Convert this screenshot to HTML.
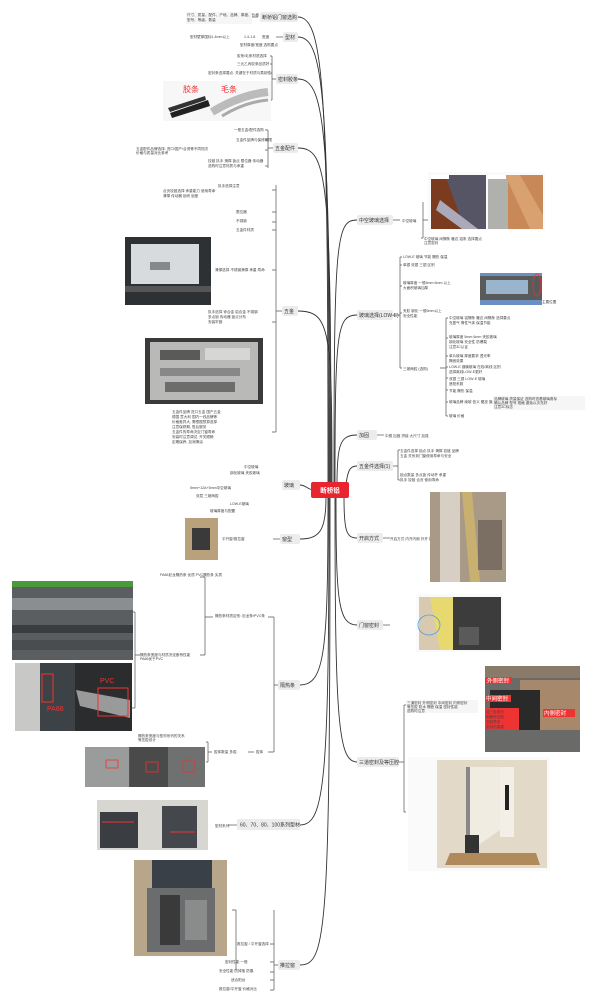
<!DOCTYPE html>
<html><head><meta charset="utf-8"><style>
html,body{margin:0;padding:0;background:#fff;width:600px;height:1003px;overflow:hidden}
svg{display:block}
.n{fill:#ececec}
.t{font-family:"Liberation Sans","Noto Sans CJK SC",sans-serif;font-size:5px;fill:#333}
.s{font-family:"Liberation Sans","Noto Sans CJK SC",sans-serif;font-size:3.6px;fill:#444}
.sb{fill:#f6f6f6}
.l{stroke:#333;stroke-width:0.9;fill:none}
.b{stroke:#555;stroke-width:0.7;fill:none}
</style></head><body>
<svg width="600" height="1003" viewBox="0 0 600 1003" xmlns="http://www.w3.org/2000/svg">
<!-- connectors from center -->
<g class="l">
<path d="M328 484 C328 100 325 17 298 17"/>
<path d="M329 484 C329 110 326 37 298 37"/>
<path d="M330 484 C330 140 327 79 298 79"/>
<path d="M331 484 C331 180 328 148 298 148"/>
<path d="M332 484 C332 330 330 311 298 311"/>
<path d="M314 490 C308 490 306 485 300 485"/>
<path d="M326 497 C326 530 320 539 300 539"/>
<path d="M328 497 C328 650 325 685 300 685"/>
<path d="M329 497 C329 780 325 825 300 825"/>
<path d="M330 497 C330 930 327 965 300 965"/>
<path d="M334 484 C334 240 336 220 357 220"/>
<path d="M335 484 C335 330 337 315 357 315"/>
<path d="M337 484 C337 445 340 435 357 435"/>
<path d="M346 484 C348 470 350 466 357 466"/>
<path d="M344 497 C344 530 346 538 357 538"/>
<path d="M336 497 C336 600 338 625 357 625"/>
<path d="M335 497 C335 720 338 762 357 762"/>
</g>
<!-- center -->
<rect x="311" y="482" width="38" height="16" rx="2" fill="#e8252f"/>
<text x="330" y="492.5" text-anchor="middle" font-family="Liberation Sans,Noto Sans CJK SC,sans-serif" font-size="6.5" fill="#fff" font-weight="bold">断桥铝</text>

<!-- left main nodes -->
<g>
<rect class="n" x="260" y="12" width="38" height="10" rx="2"/><text class="t" x="262" y="19">断桥铝门窗选购</text>
<rect class="n" x="283" y="32" width="15" height="10" rx="2"/><text class="t" x="285" y="39">型材</text>
<rect class="n" x="276" y="74" width="22" height="10" rx="2"/><text class="t" x="278" y="81">密封胶条</text>
<rect class="n" x="273" y="143" width="25" height="10" rx="2"/><text class="t" x="275" y="150">五金配件</text>
<rect class="n" x="282" y="306" width="16" height="10" rx="2"/><text class="t" x="284" y="313">五金</text>
<rect class="n" x="282" y="480" width="18" height="10" rx="2"/><text class="t" x="284" y="487">玻璃</text>
<rect class="n" x="280" y="534" width="20" height="10" rx="2"/><text class="t" x="282" y="541">窗型</text>
<rect class="n" x="278" y="680" width="22" height="10" rx="2"/><text class="t" x="280" y="687">隔热条</text>
<rect class="n" x="237" y="819" width="63" height="11" rx="2"/><text class="t" x="240" y="826.5">60、70、80、100系列型材</text>
<rect class="n" x="278" y="960" width="22" height="10" rx="2"/><text class="t" x="280" y="967">推拉窗</text>
</g>
<!-- right main nodes -->
<g>
<rect class="n" x="357" y="215" width="36" height="10" rx="2"/><text class="t" x="359" y="222">中空玻璃选择</text>
<rect class="n" x="357" y="310" width="36" height="10" rx="2"/><text class="t" x="359" y="317">玻璃选择(LOW-E)</text>
<rect class="n" x="357" y="430" width="20" height="10" rx="2"/><text class="t" x="359" y="437">加固</text>
<rect class="n" x="357" y="461" width="36" height="10" rx="2"/><text class="t" x="359" y="468">五金件选择(1)</text>
<rect class="n" x="357" y="533" width="26" height="10" rx="2"/><text class="t" x="359" y="540">开启方式</text>
<rect class="n" x="357" y="620" width="26" height="10" rx="2"/><text class="t" x="359" y="627">门窗密封</text>
<rect class="n" x="357" y="757" width="42" height="10" rx="2"/><text class="t" x="359" y="764">三道密封及等压腔</text>
</g>

<!-- left sub texts -->
<g class="b">
<path d="M258 17 H252"/><path d="M283 37 H276"/><path d="M276 79 H272 M272 56 V100 M270 56 H272 M270 64 H272 M270 73 H272 M270 100 H272"/>
<path d="M273 148 H268 M268 130 V168 M265 130 H268 M265 140 H268 M265 150 H268 M265 166 H268"/>
<path d="M282 311 H276 M276 185 V432 M272 190 H276 M272 212 H276 M272 222 H276 M272 230 H276 M272 270 H276 M272 322 H276 M272 432 H276"/>
<path d="M280 539 H273"/>
<path d="M278 685 H274 M274 617 V752 M268 617 H274 M268 752 H274"/>
<path d="M213 617 H205 M205 577 V655 M200 577 H205 M200 655 H205"/>
<path d="M140 655 H135 M135 612 V708 M130 612 H135 M130 708 H135"/>
<path d="M254 752 H248 M212 752 H208 M208 742 V762 M206 742 H208 M206 762 H208"/>
<path d="M237 825 H228"/>
<path d="M278 965 H274 M274 910 V990 M270 944 H274 M270 962 H274 M270 972 H274 M270 980 H274 M270 990 H274 M232 910 H236 M236 910 V970"/>
</g>
<g>
<rect class="sb" x="186" y="12" width="66" height="12"/><text class="s" x="187" y="16">尺寸、质量、配件、产地、品牌、厚度、价格</text><text class="s" x="187" y="21">型号、等级、数量</text>
<text class="s" x="190" y="38">型材壁厚国标1.4mm以上</text><text class="s" x="244" y="38">1.4-1.8</text><text class="s" x="262" y="38">宽度</text>
<text class="s" x="240" y="46">型材厚度/宽度 选购要点</text>
<text class="s" x="237" y="57">胶条/毛条材质选择</text><text class="s" x="237" y="65">三元乙丙胶条品质好</text>
<text class="s" x="208" y="74">密封条选择要点, 关键在于材质与柔韧性</text>
<text class="s" x="234" y="131">一般五金/配件选购</text><text class="s" x="236" y="141">五金件品牌与保修期限</text>
<text class="s" x="136" y="150">五金配件品牌选择: 进口/国产/合资等不同档次</text><text class="s" x="136" y="154">价格与质量对比参考</text>
<text class="s" x="208" y="162">铰链 执手 滑撑 锁点 限位器 传动器</text><text class="s" x="208" y="167">选购时注意材质与承重</text>
<text class="s" x="218" y="187">执手选择注意</text><text class="s" x="163" y="192">合页铰链选择 承重能力 使用寿命</text><text class="s" x="163" y="197">滑撑 传动器 锁块 锁座</text>
<text class="s" x="236" y="213">限位器</text><text class="s" x="236" y="222">不锈钢</text><text class="s" x="236" y="231">五金件材质</text>
<text class="s" x="215" y="271">滑撑选择 不锈钢滑撑 承重 寿命</text>
<text class="s" x="208" y="313">执手选择 锌合金 铝合金 不锈钢</text><text class="s" x="208" y="318">多点锁 传动器 锁点分布</text><text class="s" x="208" y="323">安装牢固</text>
<text class="s" x="172" y="413">五金件品牌 进口五金 国产五金</text><text class="s" x="172" y="418">德国 意大利 国内一线品牌等</text><text class="s" x="172" y="423">价格差异大, 需根据预算选择</text><text class="s" x="172" y="428">注意保修期, 售后服务</text><text class="s" x="172" y="433">五金件的寿命决定门窗寿命</text><text class="s" x="172" y="438">安装时注意调试, 开关顺畅</text><text class="s" x="172" y="443">定期保养, 加润滑油</text>
<text class="s" x="244" y="468">中空玻璃</text><text class="s" x="230" y="474">钢化玻璃 夹胶玻璃</text><text class="s" x="190" y="489">5mm+12A+5mm中空玻璃</text><text class="s" x="196" y="497">双层 三玻两腔</text><text class="s" x="230" y="505">LOW-E玻璃</text><text class="s" x="210" y="512">玻璃厚度与配置</text>
<text class="s" x="222" y="540">平开窗/推拉窗</text>
<text class="s" x="160" y="576">PA66尼龙隔热条 优质 PVC隔热条 劣质</text>
<text class="s" x="215" y="617">隔热条材质区别: 尼龙条/PVC条</text>
<text class="s" x="140" y="656">隔热条宽度与材质决定断桥性能</text><text class="s" x="140" y="660">PA66优于PVC</text>
<text class="s" x="138" y="737">隔热条宽度与型材系列的关系</text><text class="s" x="138" y="741">等压腔设计</text>
<text class="s" x="214" y="753">腔体数量 多腔</text><text class="s" x="256" y="753">腔体</text>
<text class="s" x="215" y="827">型材系列</text>
<text class="s" x="237" y="945">推拉窗 / 平开窗选择</text><text class="s" x="225" y="963">密封性能 一般</text><text class="s" x="219" y="972">安全性能 防掉落 防撬</text><text class="s" x="231" y="981">适合阳台</text><text class="s" x="219" y="990">推拉窗/平开窗 价格对比</text>
</g>

<!-- right sub texts -->
<g class="b">
<path d="M393 220 H400 M428 220 H423 M423 202 V238 M421 238 H423"/>
<path d="M393 315 H400 M400 257 V368 M402 257 H400 M402 265 H400 M402 286 H400 M402 313 H400 M402 368 H400"/>
<path d="M440 368 H446 M446 318 V416 M448 318 H446 M448 338 H446 M448 356 H446 M448 367 H446 M448 378 H446 M448 390 H446 M448 402 H446 M448 416 H446"/>
<path d="M377 435 H384"/><path d="M393 466 H398 M398 450 V480 M400 450 H398 M400 480 H398"/>
<path d="M383 538 H390"/><path d="M383 625 H390"/>
<path d="M398 762 H404 M404 705 V812 M406 705 H404 M406 812 H404"/>
</g>
<g>
<text class="s" x="402" y="222">中空玻璃</text>
<text class="s" x="424" y="240">中空玻璃 间隔条 暖边 铝条 选择要点</text><text class="s" x="424" y="244">注意密封</text>
<text class="s" x="403" y="258">LOW-E 玻璃 节能 隔热 保温</text><text class="s" x="403" y="266">单银 双银 三银 区别</text>
<text class="s" x="403" y="284">玻璃厚度 一般5mm 6mm 以上</text><text class="s" x="403" y="289">大面积玻璃加厚</text>
<text class="s" x="403" y="312">夹胶 钢化 一般5mm以上</text><text class="s" x="403" y="317">安全性能</text>
<text class="s" x="403" y="370">三玻两腔 (选购)</text>
<text class="s" x="449" y="319">中空玻璃 铝隔条 暖边 间隔条 选择要点</text><text class="s" x="449" y="324">充氩气 惰性气体 保温节能</text>
<text class="s" x="449" y="338">玻璃厚度 5mm 6mm 夹胶玻璃</text><text class="s" x="449" y="343">钢化玻璃 安全性 防爆裂</text><text class="s" x="449" y="348">注意3C认证</text>
<text class="s" x="449" y="357">单片玻璃 厚度要求 透光率</text><text class="s" x="449" y="362">隔音效果</text>
<text class="s" x="449" y="368">LOW-E 镀膜玻璃 在线/离线 区别</text><text class="s" x="449" y="373">选择离线LOW-E更好</text>
<text class="s" x="449" y="380">双银 三银 LOW-E 玻璃</text><text class="s" x="449" y="385">遮阳系数</text>
<text class="s" x="449" y="392">节能 隔热 保温</text>
<text class="s" x="449" y="403">玻璃品牌 南玻 信义 耀皮 旗滨</text><rect class="sb" x="493" y="396" width="92" height="14"/><text class="s" x="494" y="400">品牌玻璃 质量保证 选购时查看玻璃角标</text><text class="s" x="494" y="404">确认品牌 型号 规格 避免以次充好</text><text class="s" x="494" y="408">注意3C标志</text>
<text class="s" x="449" y="417">玻璃 价格</text>
<text class="s" x="385" y="437">中梃 加固 拼接 大尺寸 加强</text>
<text class="s" x="400" y="452">五金件选择 锁点 执手 滑撑 铰链 品牌</text><text class="s" x="400" y="457">五金 关系到门窗使用寿命与安全</text>
<text class="s" x="400" y="476">锁点数量 多点锁 传动杆 承重</text><text class="s" x="400" y="481">执手 铰链 合页 使用寿命</text>
<text class="s" x="390" y="540">开启方式 内开内倒 外开 推拉</text>
<rect class="sb" x="406" y="700" width="72" height="13"/><text class="s" x="407" y="704">三道密封 外侧密封 中间密封 内侧密封</text><text class="s" x="407" y="708">等压腔 防水 隔音 保温 密封性能</text><text class="s" x="407" y="712">选购时注意</text>
<text class="s" x="412" y="806">中空玻璃</text>
</g>

<!-- LEFT IMAGES -->
<!-- strips -->
<rect x="163" y="81" width="108" height="40" fill="#f7f7f7"/>
<text x="183" y="92" font-family="Liberation Sans,Noto Sans CJK SC,sans-serif" font-size="8" fill="#e33">胶条</text>
<text x="221" y="92" font-family="Liberation Sans,Noto Sans CJK SC,sans-serif" font-size="8" fill="#e33">毛条</text>
<path d="M170 113 L208 100 L210 106 L172 118Z" fill="#222"/><path d="M168 108 L205 96 L206 100 L170 112Z" fill="#333"/>
<path d="M212 112 Q240 95 268 92" stroke="#bbb" stroke-width="8" fill="none"/><path d="M222 116 Q245 102 268 100" stroke="#aaa" stroke-width="3" fill="none"/>
<!-- dark window -->
<rect x="125" y="237" width="86" height="68" fill="#2e3134"/><rect x="131" y="244" width="68" height="40" fill="#d8dbdd"/><rect x="125" y="286" width="86" height="6" fill="#555"/><rect x="150" y="262" width="20" height="8" fill="#888"/>
<!-- hardware box -->
<rect x="145" y="338" width="118" height="66" fill="#3a3a3a"/><rect x="150" y="342" width="108" height="58" fill="#b9b9b7"/><rect x="160" y="350" width="40" height="10" fill="#5a5a5a"/><rect x="205" y="348" width="45" height="12" fill="#d6d6d4"/><rect x="160" y="368" width="80" height="8" fill="#888"/><rect x="165" y="382" width="70" height="10" fill="#6d6d6d"/>
<!-- small profile -->
<rect x="185" y="518" width="33" height="42" fill="#b9a17b"/><rect x="192" y="528" width="18" height="22" fill="#3a3a3a"/>
<!-- metal -->
<rect x="12" y="581" width="121" height="6" fill="#4a9a3a"/><rect x="12" y="587" width="121" height="73" fill="#5a5e60"/><rect x="12" y="598" width="121" height="12" fill="#8a8e90"/><rect x="12" y="625" width="121" height="8" fill="#3a3d40"/><rect x="12" y="640" width="121" height="10" fill="#4a4d50"/>
<rect x="15" y="663" width="117" height="68" fill="#c8c8c6"/><rect x="40" y="663" width="35" height="68" fill="#3d4246"/><rect x="75" y="663" width="57" height="68" fill="#2a2c2e"/><path d="M76 690 L130 700 L130 718 L80 706Z" fill="#9a9a9a"/>
<rect x="42" y="674" width="11" height="28" fill="none" stroke="#e33" stroke-width="1"/><rect x="98" y="688" width="30" height="28" fill="none" stroke="#e33" stroke-width="1"/>
<text x="100" y="683" font-family="Liberation Sans,sans-serif" font-size="7" fill="#e33">PVC</text><text x="47" y="711" font-family="Liberation Sans,sans-serif" font-size="7" fill="#e33">PA66</text>
<!-- three profiles -->
<rect x="85" y="747" width="120" height="40" fill="#555"/><rect x="85" y="747" width="44" height="40" fill="#9a9c9c"/><rect x="130" y="747" width="38" height="40" fill="#4a4a4a"/><rect x="168" y="747" width="37" height="40" fill="#6f7070"/>
<rect x="106" y="760" width="12" height="8" fill="none" stroke="#e33" stroke-width="0.8"/><rect x="146" y="762" width="12" height="10" fill="none" stroke="#e33" stroke-width="0.8"/><rect x="183" y="760" width="12" height="12" fill="none" stroke="#e33" stroke-width="0.8"/>
<!-- two series -->
<rect x="97" y="800" width="111" height="50" fill="#d8d6d0"/><rect x="100" y="812" width="38" height="36" fill="#3a3e42"/><rect x="162" y="806" width="35" height="42" fill="#44484c"/>
<line x1="102" y1="822" x2="134" y2="822" stroke="#e33" stroke-width="1"/><line x1="170" y1="832" x2="195" y2="832" stroke="#e33" stroke-width="1"/>
<!-- big profile -->
<rect x="134" y="860" width="93" height="96" fill="#b7a68a"/><rect x="152" y="860" width="60" height="30" fill="#3a4048"/><rect x="147" y="888" width="68" height="64" fill="#6a6c6e"/><rect x="160" y="895" width="20" height="50" fill="#3a3a3a"/><rect x="185" y="900" width="22" height="40" fill="#8a8c8c"/>

<!-- RIGHT IMAGES -->
<rect x="428" y="172" width="117" height="58" fill="#fafafa"/>
<rect x="431" y="175" width="55" height="54" fill="#7a3b1f"/><path d="M445 175 L486 175 L486 229 L465 229Z" fill="#556"/><path d="M440 200 L478 229 L462 229 L436 210Z" fill="#aab"/>
<rect x="488" y="175" width="55" height="54" fill="#c88858"/><rect x="488" y="175" width="20" height="54" fill="#b0b0ac"/><path d="M505 175 L520 175 L543 215 L543 229 L530 229Z" fill="#d9a070"/>
<rect x="431" y="175" width="18" height="4" fill="#fff"/><rect x="488" y="175" width="18" height="4" fill="#fff"/>
<rect x="480" y="273" width="62" height="32" fill="#6a8fc0"/><rect x="480" y="276" width="62" height="24" fill="#5a5a5a"/><rect x="486" y="280" width="42" height="14" fill="#9ab4cc"/><ellipse cx="537" cy="285" rx="4" ry="11" fill="none" stroke="#e33" stroke-width="0.7"/><text class="s" x="542" y="303" fill="#e33">主要位置</text>
<rect x="430" y="492" width="76" height="90" fill="#a89a86"/><rect x="440" y="492" width="20" height="90" fill="#d8cfc4"/><path d="M462 492 L472 492 L480 582 L470 582Z" fill="#c8b070"/><rect x="478" y="520" width="24" height="50" fill="#7a6f62"/>
<rect x="416" y="594" width="87" height="58" fill="#fafafa"/><rect x="419" y="597" width="40" height="53" fill="#d9c9b0"/><path d="M430 597 L459 597 L459 650 L440 650Z" fill="#e8d870"/><ellipse cx="429" cy="625" rx="11" ry="10" fill="none" stroke="#4aa0e0" stroke-width="0.8"/>
<rect x="453" y="597" width="48" height="53" fill="#3c3c3c"/><rect x="459" y="627" width="20" height="18" fill="#5a5a5a"/>
<rect x="485" y="666" width="95" height="86" fill="#6a6a68"/><rect x="485" y="666" width="95" height="12" fill="#8a7a6a"/><rect x="520" y="680" width="60" height="50" fill="#a8886a"/><rect x="490" y="690" width="50" height="40" fill="#2a2a2a"/>
<g font-family="Liberation Sans,Noto Sans CJK SC,sans-serif" font-size="5.5" fill="#fff">
<rect x="486" y="677" width="26" height="7" fill="#e33"/><text x="487" y="682.5">外侧密封</text>
<rect x="485" y="695" width="26" height="7" fill="#e33"/><text x="486" y="700.5">中间密封</text>
<rect x="543" y="709" width="32" height="8" fill="#e33"/><text x="544" y="715">内侧密封</text>
<rect x="485" y="708" width="34" height="22" fill="#e33"/>
</g>
<text class="s" x="486" y="713" fill="#fff">这三处密封</text><text class="s" x="486" y="718" fill="#fff">和断桥空腔</text><text class="s" x="486" y="723" fill="#fff">空腔再多</text><text class="s" x="486" y="728" fill="#fff">密封的重要</text>
<rect x="408" y="757" width="142" height="114" fill="#fafafa"/>
<rect x="437" y="760" width="110" height="108" fill="#e2d9c8"/>
<path d="M466 767 L500 767 L500 830 L467 853 Z" fill="#f1ece2"/><path d="M466 767 L470 767 L470 853 L466 853Z" fill="#888"/>
<rect x="500" y="767" width="14" height="70" fill="#f3efe6"/><rect x="505" y="785" width="4" height="25" fill="#222"/>
<rect x="465" y="835" width="14" height="22" fill="#333"/><path d="M450 853 L536 853 L540 865 L445 865Z" fill="#b08a5a"/>
</svg>
</body></html>
